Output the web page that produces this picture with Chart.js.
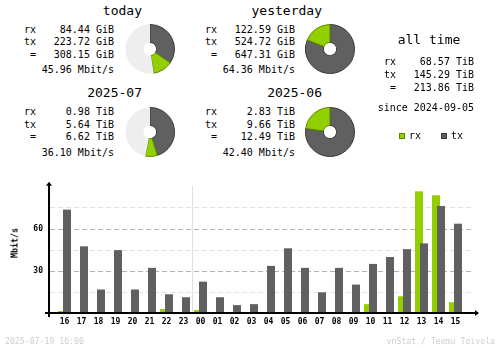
<!DOCTYPE html>
<html>
<head>
<meta charset="utf-8">
<script src="https://cdn.jsdelivr.net/npm/chart.js@4.4.1/dist/chart.umd.min.js"></script>
<style>
  body { margin: 0; background: #fff; }
  #page { position: relative; width: 500px; height: 348px; overflow: hidden; background: #fff;
          font-family: "DejaVu Sans Mono", "Liberation Mono", monospace; color: #000; }
  #page div { position: absolute; white-space: pre; }
  canvas { position: absolute; }
</style>
</head>
<body>
<div id="page">
  <canvas id="hours" width="500" height="178" style="left:0;top:170px"></canvas>
</div>
<script>
// hourly traffic, last 24 hours (Mbit/s)
const hourLabels = ['16', '17', '18', '19', '20', '21', '22', '23', '00', '01', '02', '03',
                    '04', '05', '06', '07', '08', '09', '10', '11', '12', '13', '14', '15'];
const hourRx = [1.4, 0.7, 0.7, 0.7, 0, 0.7, 2.8, 0, 2.1, 0, 0, 0,
                0.7, 0.7, 0.7, 0, 0.7, 0, 6.3, 0.7, 11.9, 86.5, 83.7, 7.7];
const hourTx = [73.5, 47.4, 16.7, 44.7, 16.7, 32.1, 13.3, 11.2, 22.3, 11.2, 5.6, 6.3,
                33.5, 46.0, 32.1, 14.7, 32.1, 20.2, 34.9, 39.8, 45.4, 49.5, 76.1, 63.5];

// period summaries
const periodTitles = ['today', 'yesterday', '2025-07', '2025-06'];
const periodRx = [84.44, 122.59, 0.98, 2.83];
const periodTx = [223.72, 524.72, 5.64, 9.66];
const periodTotal = [308.15, 647.31, 6.62, 12.49];
const periodUnits = ['GiB', 'GiB', 'TiB', 'TiB'];
const periodRates = [45.96, 64.36, 36.10, 42.40];
// an unfinished period fills its pie against the previous full one
const periodFull = [647.31, 647.31, 12.49, 12.49];

const allTimeRows = ['rx', 'tx', '='];
const allTimeValues = [68.57, 145.29, 213.86];
const allTimeUnit = 'TiB';
const sinceDate = '2024-09-05';
const stampText = '2025-07-19 16:00';

const RX = '#92cf00', TX = '#606060';
const RX_EDGE = '#5f8a00', TX_EDGE = '#3a3a3a';
const MONO = '"DejaVu Sans Mono", "Liberation Mono", monospace';

const page = document.getElementById('page');

// place a line of text so that its baseline lands on `base`
function put(str, x, base, size, align, extra) {
  const el = document.createElement('div');
  el.textContent = str;
  const lh = Math.round(size * 1.2);
  const top = base - ((lh - 1.164 * size) / 2 + 0.928 * size);
  el.style.top = top + 'px';
  el.style.fontSize = size + 'px';
  el.style.lineHeight = lh + 'px';
  if (align === 'right') el.style.right = (500 - x) + 'px';
  else if (align === 'center') { el.style.left = (x - 100) + 'px'; el.style.width = '200px'; el.style.textAlign = 'center'; }
  else el.style.left = x + 'px';
  if (extra) Object.assign(el.style, extra);
  page.appendChild(el);
  return el;
}

const blocks = [
  { left: 24, right: 114, titleRight: 142, dy: 0, cx: 150, cy: 49 },
  { left: 205, right: 295, titleRight: 322, dy: 0, cx: 330, cy: 49 },
  { left: 24, right: 114, titleRight: 142, dy: 82.5, cx: 150, cy: 132 },
  { left: 205, right: 295, titleRight: 322, dy: 82.5, cx: 330, cy: 132 }
];

blocks.forEach((b, i) => {
  put(periodTitles[i], b.titleRight, 15 + b.dy, 13, 'right');
  const vals = [periodRx[i], periodTx[i], periodTotal[i]];
  ['rx', 'tx', ' ='].forEach((lab, r) => {
    const base = 33 + r * 12.5 + b.dy;
    put(lab, b.left, base, 10);
    put(vals[r].toFixed(2) + ' ' + periodUnits[i], b.right, base, 10, 'right');
  });
  put(periodRates[i].toFixed(2) + ' Mbit/s', b.right, 73.5 + b.dy, 10, 'right');

  const cv = document.createElement('canvas');
  cv.width = 50; cv.height = 50;
  cv.style.left = (b.cx - 25) + 'px';
  cv.style.top = (b.cy - 25) + 'px';
  page.appendChild(cv);
  const rest = Math.max(periodFull[i] - periodTotal[i], 0);
  new Chart(cv, {
    type: 'doughnut',
    data: {
      labels: ['tx', 'rx', ''],
      datasets: [{
        data: [periodTx[i], periodRx[i], rest],
        backgroundColor: [TX, RX, '#eeeeee'],
        borderColor: [TX_EDGE, RX_EDGE, 'rgba(0,0,0,0)'],
        borderWidth: [1, 1, 0]
      }]
    },
    options: {
      responsive: false, animation: false, events: [],
      cutout: '27%',
      plugins: { legend: { display: false }, tooltip: { enabled: false } }
    }
  });
});

// all time column
put('all time', 429, 44.5, 13, 'center');
allTimeRows.forEach((lab, r) => {
  const base = 65.5 + r * 13;
  put(r === 2 ? ' =' : lab, 384, base, 10);
  put(allTimeValues[r].toFixed(2) + ' ' + allTimeUnit, 474, base, 10, 'right');
});
put('since ' + sinceDate, 474, 111.5, 10, 'right');

// legend
[[RX, RX_EDGE, 'rx', 399, 409], [TX, TX_EDGE, 'tx', 441, 451]].forEach(([fill, edge, lab, sx, tx]) => {
  const sq = document.createElement('div');
  Object.assign(sq.style, { left: sx + 'px', top: '133px', width: '4px', height: '4px',
    background: fill, border: '1px solid ' + edge });
  page.appendChild(sq);
  put(lab, tx, 139.5, 10);
});

// footer
put(stampText, 5, 343.5, 8.2, 'left', { color: '#cfcfcf' });
put('vnStat / Teemu Toivola', 495, 343.5, 8.2, 'right', { color: '#cfcfcf' });

// y axis title
put('Mbit/s', 14.5, 0, 8.3, 'left', {
  top: '243px', left: '14.5px', lineHeight: '9px', fontWeight: 'bold',
  transform: 'translate(-50%, -50%) rotate(-90deg)'
});

// guide lines, midnight marker and arrowed axes around the hourly bars
const frame = {
  id: 'frame',
  beforeDatasetsDraw(chart) {
    const { ctx, chartArea: a, scales: { x, y } } = chart;
    ctx.save();
    ctx.lineWidth = 1;
    ctx.setLineDash([5, 3]);
    y.ticks.forEach(t => {
      if (t.value <= 0) return;
      const py = Math.round(y.getPixelForValue(t.value)) + 0.5;
      ctx.strokeStyle = t.value % 30 === 0 ? '#b0b0b0' : '#e0e0e0';
      ctx.beginPath();
      ctx.moveTo(a.left - 6, py);
      ctx.lineTo(a.right + 9, py);
      ctx.stroke();
    });
    ctx.setLineDash([]);
    const mid = hourLabels.indexOf('00');
    const mx = Math.round((x.getPixelForValue(mid - 1) + x.getPixelForValue(mid)) / 2) + 0.5;
    ctx.strokeStyle = '#e0e0e0';
    ctx.beginPath();
    ctx.moveTo(mx, a.top - 2);
    ctx.lineTo(mx, a.bottom);
    ctx.stroke();
    ctx.restore();
    // rx first, tx laid over it
    chart.getDatasetMeta(0).controller.draw();
    chart.getDatasetMeta(1).controller.draw();
    return false;
  },
  afterDraw(chart) {
    const { ctx, chartArea: a } = chart;
    const ax = a.left - 7, ay = a.bottom;
    ctx.save();
    ctx.strokeStyle = '#000';
    ctx.fillStyle = '#000';
    ctx.lineWidth = 2;
    ctx.beginPath();
    ctx.moveTo(ax, a.top - 3);
    ctx.lineTo(ax, ay + 4);
    ctx.moveTo(ax - 4, ay);
    ctx.lineTo(a.right + 11, ay);
    ctx.stroke();
    ctx.beginPath();
    ctx.moveTo(ax, a.top - 6);
    ctx.lineTo(ax - 3, a.top - 2);
    ctx.lineTo(ax + 3, a.top - 2);
    ctx.closePath();
    ctx.fill();
    ctx.beginPath();
    ctx.moveTo(a.right + 15, ay);
    ctx.lineTo(a.right + 11, ay - 3);
    ctx.lineTo(a.right + 11, ay + 3);
    ctx.closePath();
    ctx.fill();
    ctx.restore();
  }
};

const tickFont = { family: MONO, size: 8, weight: 'bold' };

new Chart(document.getElementById('hours'), {
  type: 'bar',
  data: {
    labels: hourLabels,
    datasets: [
      { label: 'rx', data: hourRx, backgroundColor: RX, categoryPercentage: 10 / 17, barPercentage: 1.6 },
      { label: 'tx', data: hourTx, backgroundColor: TX, categoryPercentage: 10 / 17, barPercentage: 1.6 }
    ]
  },
  options: {
    responsive: false, animation: false, events: [],
    layout: { padding: { left: 0, right: 36, top: 16, bottom: 0 } },
    plugins: { legend: { display: false }, tooltip: { enabled: false } },
    scales: {
      x: {
        grid: { display: false, drawTicks: false },
        border: { display: false },
        ticks: { font: tickFont, color: '#000', padding: 4, autoSkip: false, maxRotation: 0 },
        afterFit: s => { s.height = 35; }
      },
      y: {
        min: 0, max: 89,
        grid: { display: false, drawTicks: false },
        border: { display: false },
        ticks: {
          stepSize: 15, includeBounds: false, padding: 13, font: tickFont, color: '#000',
          callback: v => (v > 0 && v % 30 === 0 ? String(v) : '')
        },
        afterFit: s => { s.width = 56; }
      }
    }
  },
  plugins: [frame]
});
</script>
</body>
</html>
